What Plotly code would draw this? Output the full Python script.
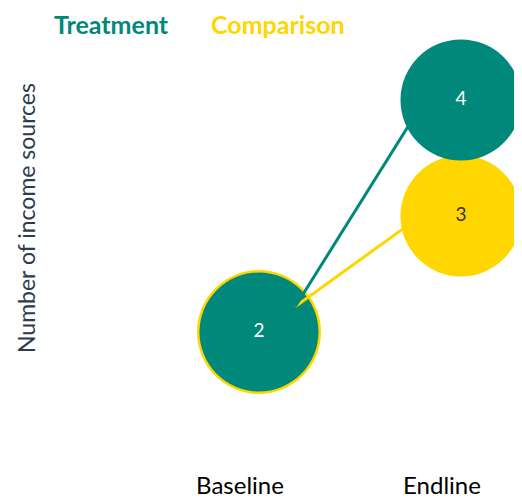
import plotly.graph_objects as go

# data
categories = ["Baseline", "Endline"]
groups = ["Treatment", "Comparison"]
treatment = [2, 4]
comparison = [2, 3]

teal = "#00897B"
yellow = "#FFD600"
font = "Lato"

x_idx = [0, 1]
shift = 0.094  # circles sit a bit right of the category labels
xm = [v + shift for v in x_idx]

fig = go.Figure()

# baseline circles (comparison underneath, treatment on top)
fig.add_trace(go.Scatter(
    x=[xm[0]], y=[comparison[0]], mode="markers",
    marker=dict(size=124, color=yellow, line=dict(width=0)),
    cliponaxis=False, hoverinfo="skip", showlegend=False))
fig.add_trace(go.Scatter(
    x=[xm[0]], y=[treatment[0]], mode="markers+text",
    marker=dict(size=119, color=teal, line=dict(width=0)),
    text=[str(treatment[0])], textposition="middle center",
    textfont=dict(color="white", size=19, family=font),
    cliponaxis=False, hoverinfo="skip", showlegend=False))

# connecting lines
for vals, col in [(comparison, yellow), (treatment, teal)]:
    x0 = xm[0] + 0.18
    y0 = vals[0] + 0.22
    x1 = xm[1]
    y1 = vals[1] + 0.25 * (vals[1] - vals[0])
    fig.add_trace(go.Scatter(
        x=[x0, x1], y=[y0, y1], mode="lines",
        line=dict(color=col, width=3),
        cliponaxis=False, hoverinfo="skip", showlegend=False))

# endline circles
fig.add_trace(go.Scatter(
    x=[xm[1]], y=[comparison[1]], mode="markers+text",
    marker=dict(size=121, color=yellow, line=dict(width=0)),
    text=[str(comparison[1])], textposition="middle center",
    textfont=dict(color="#333333", size=19, family=font),
    cliponaxis=False, hoverinfo="skip", showlegend=False))
fig.add_trace(go.Scatter(
    x=[xm[1]], y=[treatment[1]], mode="markers+text",
    marker=dict(size=121, color=teal, line=dict(width=0)),
    text=[str(treatment[1])], textposition="middle center",
    textfont=dict(color="white", size=19, family=font),
    cliponaxis=False, hoverinfo="skip", showlegend=False))

fig.update_layout(
    width=514, height=491,
    margin=dict(l=52, r=0, t=42, b=30),
    paper_bgcolor="white", plot_bgcolor="white",
    font=dict(family=font),
    xaxis=dict(range=[-0.891, 1.396], tickvals=x_idx, ticktext=categories,
               showgrid=False, zeroline=False, showline=False,
               tickfont=dict(size=24, color="black", family=font)),
    yaxis=dict(range=[0.819, 4.431], showticklabels=False, showgrid=False,
               zeroline=False, showline=False),
)

# group labels at the top
fig.add_annotation(text="<b>" + groups[0] + "</b>", xref="paper", yref="paper",
                   x=(103 - 52) / 462, y=1, yshift=42 - 16,
                   xanchor="center", yanchor="middle", showarrow=False,
                   font=dict(size=25, color=teal, family=font))
fig.add_annotation(text="<b>" + groups[1] + "</b>", xref="paper", yref="paper",
                   x=(270 - 52) / 462, y=1, yshift=42 - 16,
                   xanchor="center", yanchor="middle", showarrow=False,
                   font=dict(size=25, color=yellow, family=font))

# y axis title
fig.add_annotation(text="Number of income sources", xref="paper", yref="paper",
                   x=(18 - 52) / 462, y=1 - (210 - 42) / 419, textangle=-90,
                   xanchor="center", yanchor="middle", showarrow=False,
                   font=dict(size=23, color="#2E3B4E", family=font))

fig.write_html("out.html")
